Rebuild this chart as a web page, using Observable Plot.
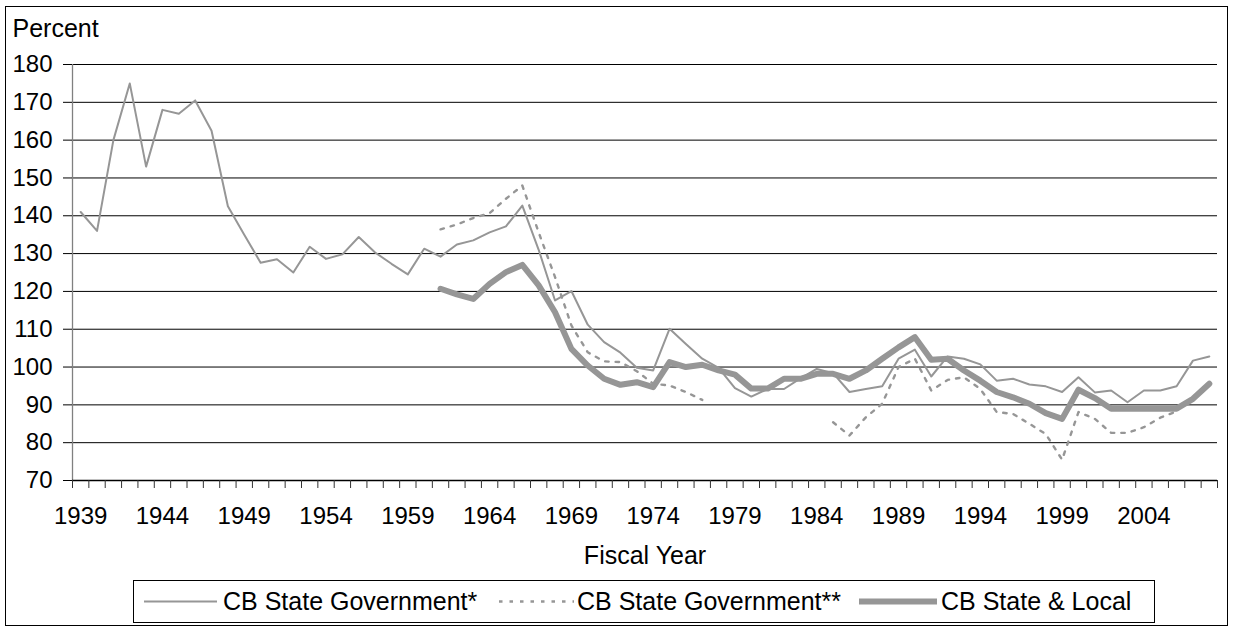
<!DOCTYPE html>
<html>
<head>
<meta charset="utf-8">
<script src="https://cdn.jsdelivr.net/npm/d3@7"></script>
<script src="https://cdn.jsdelivr.net/npm/@observablehq/plot@0.6"></script>
<style>
  body { margin: 0; background: #fff; font-family: "Liberation Sans", Arial, sans-serif; }
  #wrap { position: relative; width: 1233px; height: 631px; overflow: hidden; background: #fff; }
  #frame { position: absolute; left: 5px; top: 6px; width: 1221px; height: 618px; border: 1.5px solid #000; pointer-events: none; }
  #chart svg { display: block; }
  #legend { position: absolute; left: 133px; top: 580px; width: 1020px; height: 41px; border: 1px solid #000; background: #fff; }
  .sw { position: absolute; top: 0; height: 41px; }
  .lt { position: absolute; top: 0; height: 41px; line-height: 41px; font-size: 25px; color: #000; white-space: nowrap; }
</style>
</head>
<body>
<div id="wrap">
  <div id="chart"></div>
  <div id="legend"></div>
  <div id="frame"></div>
</div>
<script>
// ---- data ----
const seriesNames = ["CB State Government*", "CB State Government**", "CB State & Local"];

const stateGovStart = 1939;
const stateGov = [
  141, 136, 160, 175, 153, 168, 167, 170.5, 162.5, 142.5,
  135, 127.6, 128.5, 125, 131.8, 128.6, 129.8, 134.4, 130.3, 127.3,
  124.5, 131.3, 129.2, 132.4, 133.5, 135.6, 137.2, 142.7, 131, 117.6,
  120.1, 111.2, 106.6, 103.8, 99.8, 99.1, 110.1, 106.1, 102.2, 99.8,
  94.4, 92.2, 94.2, 94.2, 97, 99.5, 98.4, 93.4, 94.2, 94.9,
  102.2, 104.6, 97.5, 102.8, 102.2, 100.7, 96.4, 96.9, 95.4, 94.9,
  93.4, 97.3, 93.3, 93.8, 90.7, 93.8, 93.8, 94.9, 101.7, 102.8
];

const stateGov2Start = 1961;
const stateGov2 = [
  136.4, 137.7, 139.4, 140.7, 144.5, 148, 135.6, 123.8, 111.0, 103.9,
  101.5, 101.3, 98.9, 95.6, 95.1, 93.4, 91.3,
  null, null, null, null, null, null, null,
  85.4, 81.9, 86.7, 90.3, 100.0, 102.2, 93.8, 96.6, 97.3, 94.2,
  88.1, 87.6, 85.0, 82.3, 75.5, 88.1, 86.3, 82.6, 82.6, 84.1,
  86.6, 88.3
];

const stateLocalStart = 1961;
const stateLocal = [
  120.7, 119.2, 118.0, 122.0, 125.1, 127.0, 121.6, 114.5, 104.8, 100.4,
  96.9, 95.3, 96.0, 94.7, 101.3, 100.0, 100.6, 99.1, 98.0, 94.3,
  94.3, 96.9, 96.9, 98.2, 98.2, 96.9, 99.1, 102.2, 105.2, 107.9,
  101.9, 102.2, 99.1, 96.4, 93.4, 92.0, 90.3, 87.8, 86.3, 94.0,
  91.8, 89.0, 89.0, 89.0, 89.0, 89.0, 91.6, 95.6
];

const yTicks = [70, 80, 90, 100, 110, 120, 130, 140, 150, 160, 170, 180];
const xTickLabels = [1939, 1944, 1949, 1954, 1959, 1964, 1969, 1974, 1979, 1984, 1989, 1994, 1999, 2004];
const firstYear = 1939, lastYear = 2008;

// ---- build rows ----
const toRows = (start, vals) => vals.map((v, i) => ({year: start + i, value: v}));
const rows1 = toRows(stateGovStart, stateGov);
const rows2 = toRows(stateGov2Start, stateGov2);
const rows3 = toRows(stateLocalStart, stateLocal);
const categoryEdges = d3.range(firstYear - 0.5, lastYear + 1, 1);

const lineColor = "#969696";
const dotted = "3.5,7";

const chart = Plot.plot({
  width: 1233,
  height: 578,
  marginLeft: 72,
  marginRight: 16,
  marginTop: 64,
  marginBottom: 98,
  style: {fontFamily: '"Liberation Sans", Arial, sans-serif', fontSize: "24px", color: "#000", background: "transparent", overflow: "visible"},
  x: {domain: [firstYear - 0.5, lastYear + 0.5]},
  y: {domain: [70, 180]},
  marks: [
    Plot.ruleY(yTicks.slice(1), {stroke: "#000", strokeWidth: 1}),
    Plot.ruleX([firstYear - 0.5], {stroke: "#808080", strokeWidth: 1.3}),
    Plot.ruleY([70], {stroke: "#000", strokeWidth: 1.3}),
    Plot.axisY(yTicks, {tickSize: 9, tickPadding: 11, fontSize: 24, label: null, stroke: "#000"}),
    Plot.axisX(categoryEdges, {tickSize: 8, tickFormat: () => "", label: null, stroke: "#333"}),
    Plot.axisX(xTickLabels, {tickSize: 0, tickPadding: 26, fontSize: 24, label: null, tickFormat: d => String(d)}),
    Plot.line(rows1, {x: "year", y: "value", stroke: lineColor, strokeWidth: 2}),
    Plot.line(rows2, {x: "year", y: "value", stroke: lineColor, strokeWidth: 2.4, strokeDasharray: dotted}),
    Plot.line(rows3, {x: "year", y: "value", stroke: lineColor, strokeWidth: 6, strokeLinejoin: "round"}),
    Plot.text(["Percent"], {frameAnchor: "top-left", textAnchor: "start", lineAnchor: "bottom", dx: -60, dy: -28, fontSize: 25}),
    Plot.text(["Fiscal Year"], {frameAnchor: "bottom", lineAnchor: "bottom", dy: 83.5, fontSize: 25})
  ]
});
document.getElementById("chart").appendChild(chart);

// ---- legend ----
const legend = document.getElementById("legend");
const items = [
  {name: seriesNames[0], sw: 9.5, sww: 73, tx: 89, width: 2, dash: null},
  {name: seriesNames[1], sw: 365, sww: 75, tx: 443, width: 2.4, dash: dotted},
  {name: seriesNames[2], sw: 725, sww: 78, tx: 807, width: 6, dash: null}
];
for (const it of items) {
  const s = document.createElementNS("http://www.w3.org/2000/svg", "svg");
  s.setAttribute("class", "sw");
  s.setAttribute("width", it.sww);
  s.setAttribute("height", 41);
  s.style.left = it.sw + "px";
  const l = document.createElementNS("http://www.w3.org/2000/svg", "line");
  l.setAttribute("x1", 0); l.setAttribute("x2", it.sww);
  l.setAttribute("y1", 20.5); l.setAttribute("y2", 20.5);
  l.setAttribute("stroke", lineColor);
  l.setAttribute("stroke-width", it.width);
  if (it.width > 4) l.setAttribute("stroke-linecap", "round");
  if (it.dash) l.setAttribute("stroke-dasharray", it.dash);
  s.appendChild(l);
  legend.appendChild(s);
  const t = document.createElement("div");
  t.className = "lt";
  t.style.left = it.tx + "px";
  t.textContent = it.name;
  legend.appendChild(t);
}
</script>
</body>
</html>
